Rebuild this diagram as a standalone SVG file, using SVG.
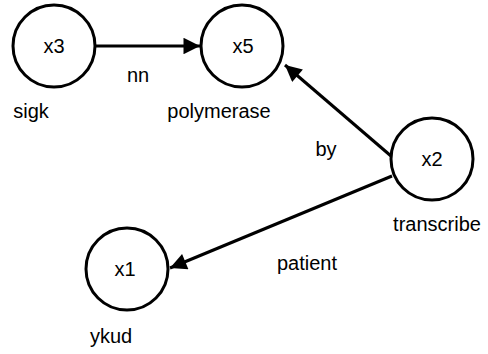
<svg xmlns="http://www.w3.org/2000/svg" width="488" height="354" viewBox="0 0 488 354">
<defs>
<marker id="arr" viewBox="0 0 10 10" refX="10" refY="5" markerWidth="6" markerHeight="5.5" markerUnits="strokeWidth" orient="auto">
<path d="M0,0 L10,5 L0,10 z" fill="#000"/>
</marker>
<style>
.n{fill:#fff;stroke:#000;stroke-width:3}
.e{stroke:#000;stroke-width:3;fill:none;marker-end:url(#arr)}
text{font-family:"Liberation Sans",Arial,sans-serif;font-size:20px;fill:#000;text-anchor:middle}
</style>
</defs>
<rect width="488" height="354" fill="#fff"/>
<g id="edges">
<line class="e" x1="96" y1="46" x2="200" y2="46"/>
<line class="e" x1="391" y1="156" x2="285" y2="65"/>
<line class="e" x1="392" y1="176" x2="170" y2="268"/>
<text x="138" y="82">nn</text>
<text x="326" y="156">by</text>
<text x="307" y="270">patient</text>
</g>
<g id="x3"><circle class="n" cx="54" cy="46" r="41"/><text x="54" y="53">x3</text><text x="31" y="118">sigk</text></g>
<g id="x5"><circle class="n" cx="242" cy="46" r="41"/><text x="243" y="53">x5</text><text x="219" y="118">polymerase</text></g>
<g id="x2"><circle class="n" cx="432" cy="159" r="41"/><text x="432" y="166">x2</text><text x="437" y="231">transcribe</text></g>
<g id="x1"><circle class="n" cx="127" cy="269" r="41"/><text x="125" y="276">x1</text><text x="111" y="343">ykud</text></g>
</svg>
